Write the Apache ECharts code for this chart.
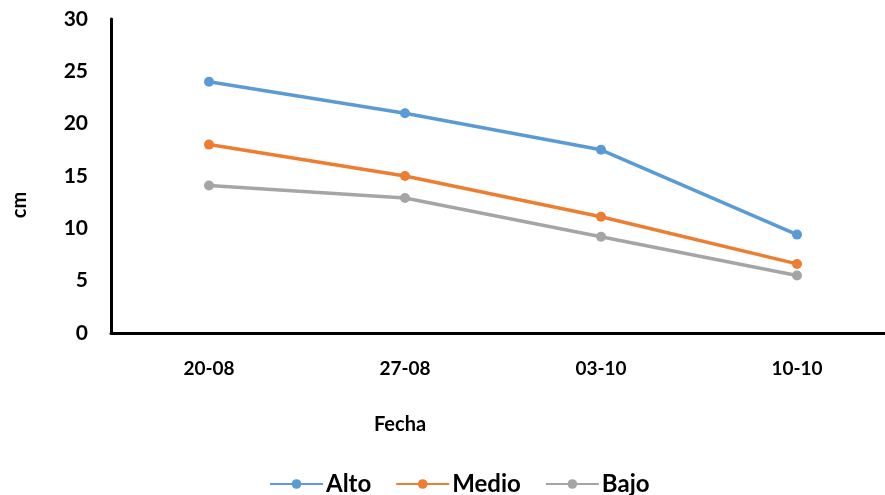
<!DOCTYPE html>
<html>
<head>
<meta charset="utf-8">
<script src="https://cdn.jsdelivr.net/npm/echarts@6/dist/echarts.min.js"></script>
<style>
  html, body { margin: 0; padding: 0; background: #fff; overflow: hidden; }
  /* canvas is a bit wider than the page so the plot area runs past the right edge */
  #chart { width: 895px; height: 495px; }
</style>
</head>
<body>
<div id="chart"></div>
<script>
// Plant height (cm) per sampling date, for three levels
const fechas = ['20-08', '27-08', '03-10', '10-10'];
const alto = [24.0, 21.0, 17.5, 9.4];
const medio = [18.0, 15.0, 11.1, 6.6];
const bajo = [14.1, 12.9, 9.2, 5.5];

const FONT = 'Lato';
const chart = echarts.init(document.getElementById('chart'), null, { renderer: 'canvas' });

function serie(name, data, color) {
  return {
    name: name,
    type: 'line',
    data: data,
    symbol: 'circle',
    symbolSize: 10,
    lineStyle: { color: color, width: 3.5 },
    itemStyle: { color: color },
    emphasis: { disabled: true },
    animation: false
  };
}

chart.setOption({
  animation: false,
  grid: { left: 111, right: 0, top: 19, bottom: 162 },
  xAxis: {
    type: 'category',
    data: fechas,
    boundaryGap: true,
    axisLine: { lineStyle: { color: '#000', width: 3 } },
    axisTick: { show: false },
    axisLabel: { color: '#000', fontFamily: FONT, fontWeight: 'bold', fontSize: 19, margin: 26 }
  },
  yAxis: {
    type: 'value',
    min: 0, max: 30, interval: 5,
    axisLine: { show: true, lineStyle: { color: '#000', width: 3 } },
    axisTick: { show: false },
    splitLine: { show: false },
    axisLabel: { color: '#000', fontFamily: FONT, fontWeight: 'bold', fontSize: 21, margin: 23 }
  },
  legend: {
    left: 264,
    top: 467,
    itemWidth: 53,
    itemHeight: 12,
    itemGap: 24,
    textStyle: { color: '#000', fontFamily: FONT, fontWeight: 'bold', fontSize: 24, padding: [0, 0, 0, -2] },
    data: ['Alto', 'Medio', 'Bajo']
  },
  graphic: [
    {
      type: 'text', x: 400, y: 425,
      style: { text: 'Fecha', fill: '#000', font: 'bold 20px ' + FONT, textAlign: 'center', textVerticalAlign: 'middle' }
    },
    {
      type: 'text', x: 20, y: 205, rotation: Math.PI / 2,
      style: { text: 'cm', fill: '#000', font: 'bold 20px ' + FONT, textAlign: 'center', textVerticalAlign: 'middle' }
    }
  ],
  series: [
    serie('Alto', alto, '#5B9BD5'),
    serie('Medio', medio, '#ED7D31'),
    serie('Bajo', bajo, '#A5A5A5')
  ]
});
</script>
</body>
</html>
